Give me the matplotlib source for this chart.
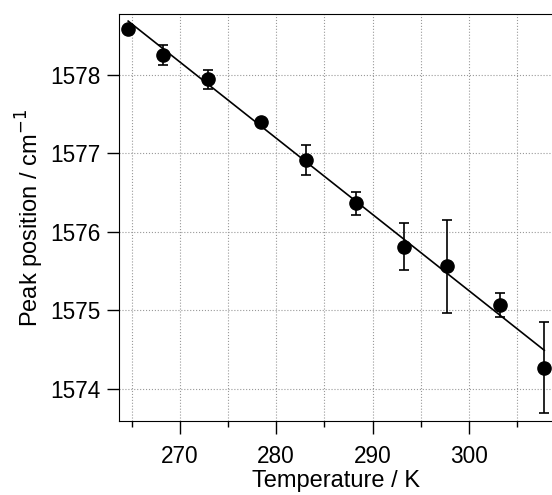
import numpy as np
import matplotlib
matplotlib.use('Agg')
import matplotlib.pyplot as plt
from matplotlib.ticker import MultipleLocator

# data
temperature = [264.65, 268.3, 272.9, 278.45, 283.1, 288.27, 293.27, 297.7, 303.2, 307.8]
peak = [1578.58, 1578.25, 1577.94, 1577.39, 1576.91, 1576.36, 1575.81, 1575.56, 1575.07, 1574.27]
peak_err = [0.03, 0.13, 0.12, 0.03, 0.19, 0.15, 0.30, 0.59, 0.15, 0.58]

# linear fit end points
fit_t = [264.65, 307.8]
fit_p = [1578.68, 1574.49]

plt.rcParams['font.family'] = ['Liberation Sans', 'DejaVu Sans']

fig = plt.figure(figsize=(5.52, 4.95), dpi=100)
ax = fig.add_axes([0.2156, 0.1495, 0.7844, 0.8222])

ax.plot(fit_t, fit_p, color='black', lw=1.2, zorder=2)
ax.errorbar(temperature, peak, yerr=peak_err, fmt='o', color='black',
            markersize=9.5, capsize=3.6, elinewidth=1.2, capthick=1.2, zorder=3)

ax.set_xlim(263.7, 308.6)
ax.set_ylim(1573.59, 1578.77)

ax.xaxis.set_major_locator(MultipleLocator(10))
ax.xaxis.set_minor_locator(MultipleLocator(5))
ax.yaxis.set_major_locator(MultipleLocator(1))

ax.grid(True, which='both', axis='x', ls=':', color='#999999', lw=0.8)
ax.grid(True, which='major', axis='y', ls=':', color='#999999', lw=0.8)
ax.set_axisbelow(True)

ax.tick_params(which='major', length=9, width=1, labelsize=16.3, direction='out')
ax.tick_params(which='minor', length=4.5, width=1, direction='out')
ax.tick_params(axis='x', which='major', pad=8)
ax.tick_params(axis='y', which='major', pad=4.5)
ax.spines['right'].set_visible(False)

ax.set_xlabel('Temperature / K', fontsize=17, labelpad=2)
ax.set_ylabel('Peak position / cm$^{-1}$', fontsize=17, labelpad=3)

plt.savefig('out.png', dpi=100)
